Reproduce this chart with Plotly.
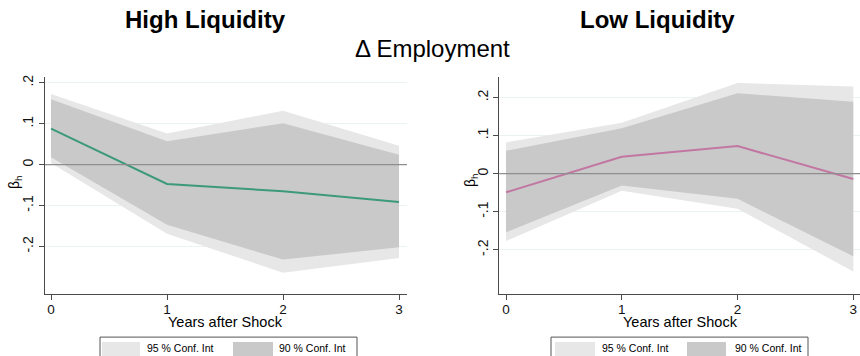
import plotly.graph_objects as go

# Horizons (years after the shock)
years = [0, 1, 2, 3]

# High-liquidity firms: local-projection coefficients and confidence bands
high_beta = [0.088, -0.047, -0.065, -0.091]
high_ci95_hi = [0.173, 0.076, 0.132, 0.046]
high_ci95_lo = [0.004, -0.169, -0.264, -0.228]
high_ci90_hi = [0.160, 0.057, 0.101, 0.024]
high_ci90_lo = [0.018, -0.147, -0.232, -0.202]

# Low-liquidity firms
low_beta = [-0.049, 0.0445, 0.0725, -0.014]
low_ci95_hi = [0.082, 0.134, 0.238, 0.229]
low_ci95_lo = [-0.177, -0.045, -0.092, -0.257]
low_ci90_hi = [0.060, 0.119, 0.211, 0.189]
low_ci90_lo = [-0.154, -0.031, -0.066, -0.217]

ytick_vals = [-0.2, -0.1, 0, 0.1, 0.2]
ytick_text = ["-.2", "-.1", "0", ".1", ".2"]
xtick_vals = [0, 1, 2, 3]
xtick_text = ["0", "1", "2", "3"]

W, H = 860, 356
FONT = "Liberation Sans, Arial, Helvetica, sans-serif"
C95 = "#e7e7e7"
C90 = "#c9c9c9"
AXIS = "#4a4a4a"
GRID = "#ebf2f2"


def px(x):
    return x / W


def py(y):
    return 1 - y / H


def band(lo, hi, color, xa, ya):
    return go.Scatter(
        x=years + years[::-1], y=hi + lo[::-1],
        fill="toself", fillcolor=color, mode="none",
        hoverinfo="skip", showlegend=False, xaxis=xa, yaxis=ya,
    )


fig = go.Figure()
panels = [
    ("x", "y", high_beta, high_ci95_lo, high_ci95_hi, high_ci90_lo, high_ci90_hi, "#3d9a79"),
    ("x2", "y2", low_beta, low_ci95_lo, low_ci95_hi, low_ci90_lo, low_ci90_hi, "#c277a3"),
]
for xa, ya, beta, lo95, hi95, lo90, hi90, col in panels:
    fig.add_trace(band(lo95, hi95, C95, xa, ya))
    fig.add_trace(band(lo90, hi90, C90, xa, ya))
    fig.add_trace(go.Scatter(x=years, y=beta, mode="lines",
                             line=dict(color=col, width=2),
                             showlegend=False, xaxis=xa, yaxis=ya))

xcommon = dict(
    tickvals=xtick_vals, ticktext=xtick_text, ticks="outside", ticklen=5,
    tickcolor=AXIS, tickwidth=1, showline=True, linecolor=AXIS, linewidth=1.3,
    showgrid=False, zeroline=False, ticklabelstandoff=-3,
    tickfont=dict(family=FONT, size=13.5, color="#111"),
)
ycommon = dict(
    tickvals=ytick_vals, ticktext=ytick_text, tickangle=-90, ticks="outside",
    ticklen=5, tickcolor=AXIS, tickwidth=1, showline=True, linecolor=AXIS,
    linewidth=1.3, showgrid=True, gridcolor=GRID, gridwidth=1, zeroline=False,
    tickfont=dict(family=FONT, size=14, color="#111"),
)

fig.update_layout(
    width=W, height=H, margin=dict(l=0, r=0, t=0, b=0),
    paper_bgcolor="white", plot_bgcolor="white", showlegend=False,
    xaxis=dict(domain=[px(45), px(407)], range=[-0.052, 3.069], anchor="y", **xcommon),
    yaxis=dict(domain=[py(294), py(75)], range=[-0.317, 0.2154], anchor="x", **ycommon),
    xaxis2=dict(domain=[px(499.3), 1.0], range=[-0.058, 3.058], anchor="y2", **xcommon),
    yaxis2=dict(domain=[py(294), py(75)], range=[-0.317, 0.255], anchor="x2", **ycommon),
)

# Reference line at zero
for xa, ya in [("x", "y"), ("x2", "y2")]:
    fig.add_shape(type="line", xref=f"{xa} domain", yref=ya, x0=0, x1=1, y0=0, y1=0,
                  line=dict(color="#8e8e8e", width=1.2), layer="above")


def text(x, y, s, size, bold=False, angle=0, xanchor="center"):
    fig.add_annotation(
        x=px(x), y=py(y), xref="paper", yref="paper", text=f"<b>{s}</b>" if bold else s,
        showarrow=False, xanchor=xanchor, yanchor="middle", textangle=angle,
        font=dict(family=FONT, size=size, color="#000"),
    )


text(205.5, 18, "High Liquidity", 24, bold=True)
text(657, 18, "Low Liquidity", 24, bold=True)
text(432.5, 47, "Δ Employment", 24)

text(225.5, 322, "Years after Shock", 14.5)
text(680, 322, "Years after Shock", 14.5)

text(15, 181, "β<sub>h</sub>", 14, angle=-90)
text(471, 179, "β<sub>h</sub>", 14, angle=-90)

# Legend boxes
legends = [
    (100, 357, (102, 140), 145, (233, 273), 277),
    (551, 808, (555, 595), 600, (687, 726), 733),
]
for left, right, sw1, t1, sw2, t2 in legends:
    fig.add_shape(type="rect", xref="paper", yref="paper",
                  x0=px(left), x1=px(right), y0=py(337), y1=py(H + 5),
                  line=dict(color="#555", width=1), fillcolor="white")
    fig.add_shape(type="rect", xref="paper", yref="paper",
                  x0=px(sw1[0]), x1=px(sw1[1]), y0=py(342), y1=py(H + 5),
                  line=dict(width=0), fillcolor=C95)
    fig.add_shape(type="rect", xref="paper", yref="paper",
                  x0=px(sw2[0]), x1=px(sw2[1]), y0=py(342), y1=py(H + 5),
                  line=dict(width=0), fillcolor=C90)
    text(t1, 347.5, "95 % Conf. Int", 10.5, xanchor="left")
    text(t2, 347.5, "90 % Conf. Int", 10.5, xanchor="left")

fig.write_html("out.html")
